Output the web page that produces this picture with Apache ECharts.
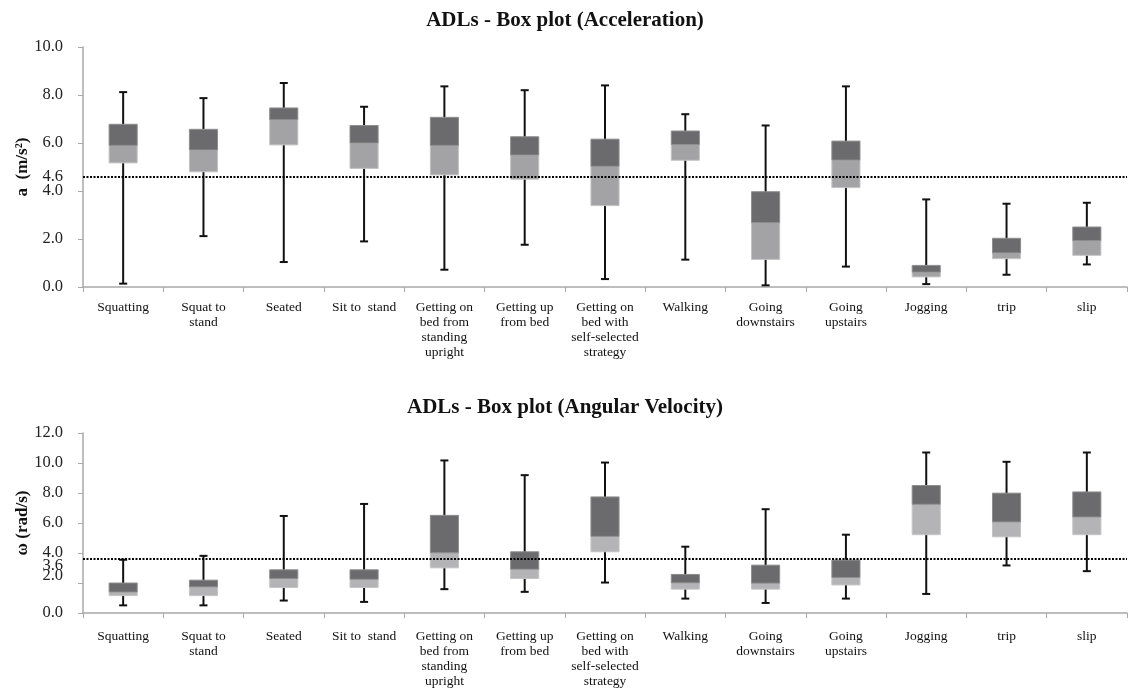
<!DOCTYPE html>
<html>
<head>
<meta charset="utf-8">
<script src="https://cdn.jsdelivr.net/npm/echarts@6/dist/echarts.min.js"></script>
<style>
  html, body { margin: 0; padding: 0; background: #fff; }
  #chart { width: 1130px; height: 698px; }
</style>
</head>
<body>
<div id="chart"></div>
<script>
// Activities of daily living (shared by both panels)
const categories = [
  'Squatting', 'Squat to\nstand', 'Seated', 'Sit to  stand',
  'Getting on\nbed from\nstanding\nupright', 'Getting up\nfrom bed',
  'Getting on\nbed with\nself-selected\nstrategy', 'Walking',
  'Going\ndownstairs', 'Going\nupstairs', 'Jogging', 'trip', 'slip'
];

// Acceleration (m/s²): whisker ends, quartiles and median
const accMin = [0.14, 2.12, 1.04, 1.90, 0.72, 1.76, 0.33, 1.14, 0.07, 0.85, 0.12, 0.51, 0.94];
const accQ1  = [5.17, 4.80, 5.92, 4.94, 4.67, 4.49, 3.39, 5.28, 1.15, 4.14, 0.42, 1.18, 1.32];
const accMed = [5.90, 5.71, 6.97, 6.00, 5.90, 5.50, 5.03, 5.94, 2.68, 5.29, 0.62, 1.42, 1.93];
const accQ3  = [6.78, 6.57, 7.46, 6.73, 7.07, 6.26, 6.16, 6.50, 3.97, 6.08, 0.90, 2.03, 2.50];
const accMax = [8.12, 7.87, 8.50, 7.51, 8.36, 8.20, 8.40, 7.20, 6.73, 8.36, 3.65, 3.47, 3.51];
const accThreshold = 4.6;
const accTicks = [0, 2, 4, 4.6, 6, 8, 10];

// Angular velocity (rad/s)
const gyrMin = [0.51, 0.51, 0.83, 0.74, 1.59, 1.41, 2.03, 0.96, 0.67, 0.96, 1.27, 3.17, 2.79];
const gyrQ1  = [1.16, 1.16, 1.70, 1.70, 3.01, 2.30, 4.08, 1.59, 1.59, 1.87, 5.22, 5.08, 5.22];
const gyrMed = [1.40, 1.74, 2.30, 2.25, 4.01, 2.92, 5.11, 2.01, 1.99, 2.37, 7.25, 6.07, 6.40];
const gyrQ3  = [2.00, 2.19, 2.88, 2.88, 6.51, 4.08, 7.74, 2.57, 3.19, 3.53, 8.50, 7.99, 8.07];
const gyrMax = [3.55, 3.81, 6.47, 7.27, 10.17, 9.19, 10.03, 4.42, 6.92, 5.22, 10.70, 10.08, 10.70];
const gyrThreshold = 3.6;
const gyrTicks = [0, 2, 3.6, 4, 6, 8, 10, 12];

const SERIF = '"Liberation Serif", "DejaVu Serif", serif';
const AXIS_GREY = '#a8a8a8';

function rows(mn, q1, md, q3, mx) {
  return categories.map((_, i) => [i, mn[i], q1[i], md[i], q3[i], mx[i]]);
}

// Two-tone box: light from Q1 to median, dark from median to Q3, whiskers with caps
function boxRenderer(lightFill) {
  return function (params, api) {
    const i = api.value(0);
    const x = api.coord([i, 0])[0];
    const w = api.size([1, 0])[0] * 0.35;
    const yLo = api.coord([i, api.value(1)])[1];
    const yQ1 = api.coord([i, api.value(2)])[1];
    const yMd = api.coord([i, api.value(3)])[1];
    const yQ3 = api.coord([i, api.value(4)])[1];
    const yHi = api.coord([i, api.value(5)])[1];
    const cap = 4;
    const wStyle = { stroke: '#111', lineWidth: 2 };
    return {
      type: 'group',
      children: [
        { type: 'line', shape: { x1: x, y1: yLo, x2: x, y2: yHi }, style: wStyle },
        { type: 'line', shape: { x1: x - cap, y1: yLo, x2: x + cap, y2: yLo }, style: wStyle },
        { type: 'line', shape: { x1: x - cap, y1: yHi, x2: x + cap, y2: yHi }, style: wStyle },
        { type: 'rect', shape: { x: x - w / 2, y: yMd, width: w, height: yQ1 - yMd },
          style: { fill: lightFill, stroke: '#c4c4c4', lineWidth: 1 } },
        { type: 'rect', shape: { x: x - w / 2, y: yQ3, width: w, height: yMd - yQ3 },
          style: { fill: '#6b6b6d', stroke: '#8e8e8e', lineWidth: 1 } }
      ]
    };
  };
}

function xAxisFor(gridIndex, margin) {
  return {
    type: 'category', gridIndex, data: categories,
    axisLine: { lineStyle: { color: AXIS_GREY, width: 1.5 } },
    axisTick: { show: true, length: 5, alignWithLabel: false, lineStyle: { color: AXIS_GREY } },
    axisLabel: {
      interval: 0, margin, color: '#111', fontFamily: SERIF, fontSize: 13.5, lineHeight: 15
    },
    splitLine: { show: false }
  };
}

function yAxisFor(gridIndex, max, ticks, name, labelFmt) {
  return {
    type: 'value', gridIndex, min: 0, max, interval: 2,
    name, nameLocation: 'middle', nameRotate: 90, nameGap: 52, nameMoveOverlap: false,
    nameTextStyle: { fontFamily: SERIF, fontWeight: 'bold', fontSize: 17, color: '#111' },
    axisLine: { show: true, lineStyle: { color: AXIS_GREY, width: 1.5 } },
    axisTick: { show: true, length: 5, lineStyle: { color: AXIS_GREY } },
    axisLabel: {
      customValues: ticks, margin: 20, color: '#222', fontFamily: SERIF, fontSize: 16.5, lineHeight: 14,
      formatter: labelFmt
    },
    splitLine: { show: false }
  };
}

function thresholdSeries(xi, yi, value) {
  return {
    type: 'line', xAxisIndex: xi, yAxisIndex: yi, data: [], z: 5, silent: true,
    markLine: {
      symbol: 'none', silent: true, animation: false, label: { show: false },
      lineStyle: { type: [2, 1.5], color: '#000', width: 2 },
      data: [{ yAxis: value }]
    }
  };
}

const chart = echarts.init(document.getElementById('chart'), null, { renderer: 'canvas' });
chart.setOption({
  animation: false,
  backgroundColor: '#fff',
  title: [
    { text: 'ADLs - Box plot (Acceleration)', left: 'center', top: 5,
      textStyle: { fontFamily: SERIF, fontWeight: 'bold', fontSize: 21, color: '#111' } },
    { text: 'ADLs - Box plot (Angular Velocity)', left: 'center', top: 392,
      textStyle: { fontFamily: SERIF, fontWeight: 'bold', fontSize: 21, color: '#111' } }
  ],
  grid: [
    { left: 83, top: 47, width: 1044, height: 240, outerBoundsMode: 'none', containLabel: false },
    { left: 83, top: 433, width: 1044, height: 180, outerBoundsMode: 'none', containLabel: false }
  ],
  xAxis: [xAxisFor(0, 13), xAxisFor(1, 16)],
  yAxis: [
    yAxisFor(0, 10, accTicks, 'a  (m/s²)', v => v.toFixed(1)),
    // crowded labels around the threshold are nudged apart
    yAxisFor(1, 12, gyrTicks, 'ω (rad/s)', v => {
      const s = v.toFixed(1);
      if (Math.abs(v - 3.6) < 1e-6) return '\n' + s;
      if (Math.abs(v - 2) < 1e-6) return s + '\n';
      return s;
    })
  ],
  series: [
    { type: 'custom', name: 'Acceleration', xAxisIndex: 0, yAxisIndex: 0, z: 2,
      renderItem: boxRenderer('#a3a3a6'),
      encode: { x: 0, y: [1, 2, 3, 4, 5] },
      data: rows(accMin, accQ1, accMed, accQ3, accMax) },
    thresholdSeries(0, 0, accThreshold),
    { type: 'custom', name: 'Angular Velocity', xAxisIndex: 1, yAxisIndex: 1, z: 2,
      renderItem: boxRenderer('#b4b4b6'),
      encode: { x: 0, y: [1, 2, 3, 4, 5] },
      data: rows(gyrMin, gyrQ1, gyrMed, gyrQ3, gyrMax) },
    thresholdSeries(1, 1, gyrThreshold)
  ]
});
</script>
</body>
</html>
